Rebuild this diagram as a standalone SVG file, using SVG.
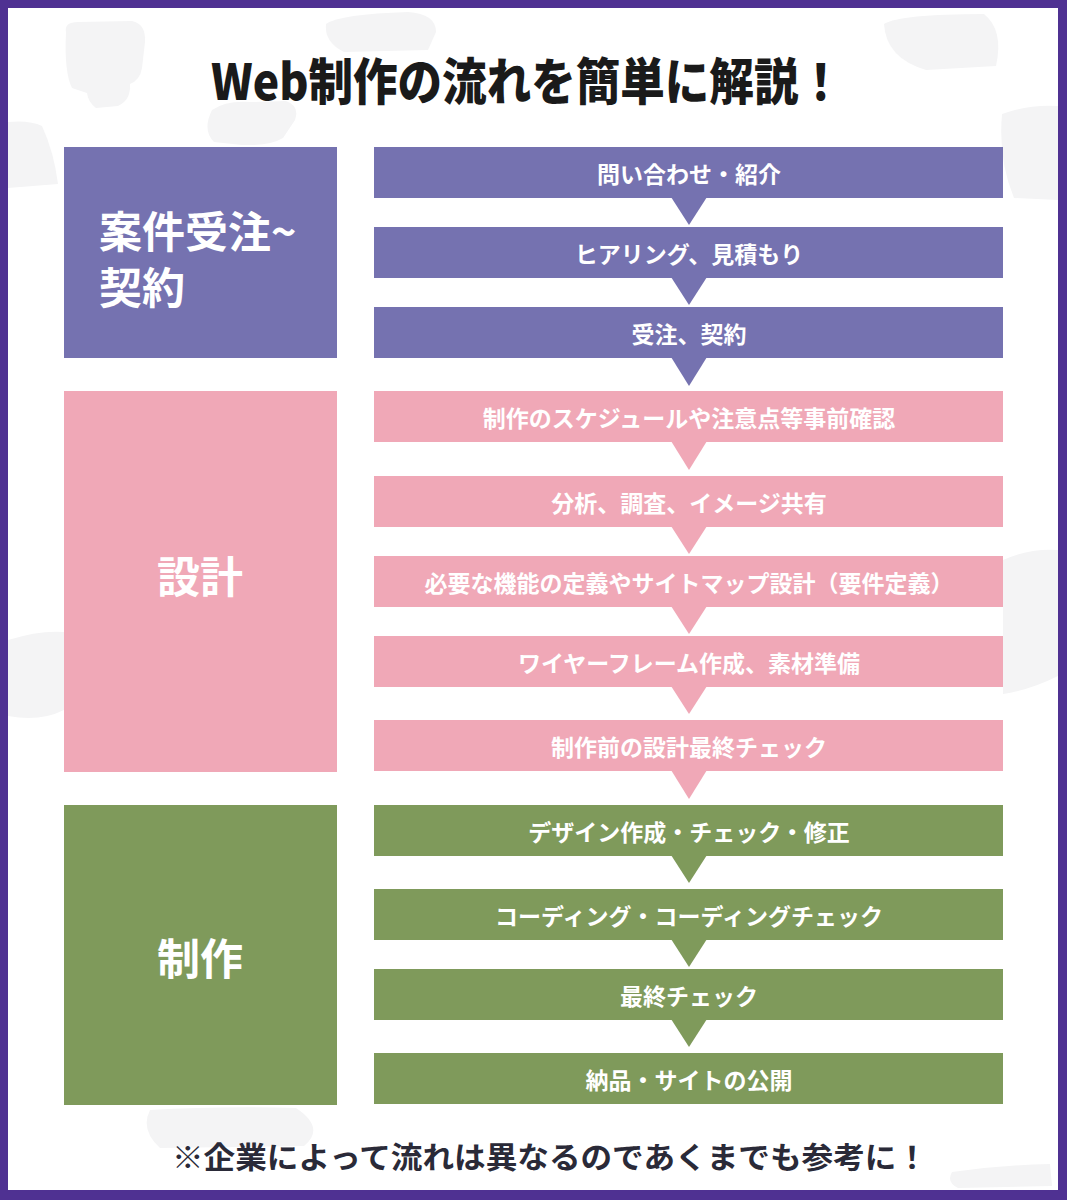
<svg xmlns="http://www.w3.org/2000/svg" width="1067" height="1200" viewBox="0 0 1067 1200">
<style>
.bg{fill:#f4f4f5}
.pu{fill:#7572b0}
.pk{fill:#f0a8b7}
.gr{fill:#7f9a5b}
.lbl{font-family:"Noto Sans CJK JP","Noto Sans",sans-serif;font-weight:700;fill:#ffffff;dominant-baseline:central}
.step{font-size:23px;text-anchor:middle}
.big{font-size:43px}
.title{font-family:"Noto Sans CJK JP","Noto Sans",sans-serif;font-weight:900;font-size:50px;fill:#1a1a1a;dominant-baseline:central}
.note{font-family:"Noto Sans CJK JP","Noto Sans",sans-serif;font-weight:700;font-size:30px;fill:#2a2a38;dominant-baseline:central}
</style>
<rect x="0" y="0" width="1067" height="1200" fill="#4f3192"/>
<rect x="8" y="8" width="1050" height="1182" fill="#ffffff"/>
<g id="background">
<path class="bg" d="M66 32 Q64 22 78 22 L132 21 Q146 24 145 42 L142 68 Q140 80 130 84 Q131 100 118 106 L96 108 Q88 102 87 93 L72 88 Q64 72 66 32Z"/>
<path class="bg" d="M212 110 Q226 100 252 102 L286 101 Q300 106 295 120 L283 138 Q270 146 242 145 L214 142 Q202 130 212 110Z"/>
<path class="bg" d="M326 24 Q340 14 408 12 Q436 14 436 32 L428 50 L344 52 Q324 42 326 24Z"/>
<path class="bg" d="M884 24 Q900 14 984 14 Q1004 30 996 66 L926 70 Q886 58 884 24Z"/>
<path class="bg" d="M1002 114 Q1030 104 1058 106 L1058 200 L1014 198 Q998 160 1002 114Z"/>
<path class="bg" d="M8 122 Q30 120 42 126 Q54 152 58 184 L8 188Z"/>
<path class="bg" d="M8 640 Q40 630 64 632 L64 710 Q40 722 8 716Z"/>
<path class="bg" d="M1003 560 Q1030 548 1058 550 L1058 676 Q1030 690 1003 694Z"/>
<path class="bg" d="M150 1110 Q220 1106 296 1108 Q326 1128 304 1146 L160 1148 Q140 1130 150 1110Z"/>
<path class="bg" d="M952 1172 Q1000 1165 1050 1164 L1052 1186 L958 1188 Q946 1182 952 1172Z"/>
</g>
<text class="title" x="211" y="78" textLength="632" lengthAdjust="spacingAndGlyphs">Web制作の流れを簡単に解説！</text>
<g id="phase-contract">
<rect class="pu" x="64" y="147" width="273" height="211"/>
<text class="lbl big" x="99" y="229">案件受注~</text>
<text class="lbl big" x="99" y="285">契約</text>
</g>
<g id="phase-design">
<rect class="pk" x="64" y="391" width="273" height="381"/>
<text class="lbl big" x="200" y="574" text-anchor="middle">設計</text>
</g>
<g id="phase-production">
<rect class="gr" x="64" y="805" width="273" height="300"/>
<text class="lbl big" x="200" y="956" text-anchor="middle">制作</text>
</g>
<g id="connectors">
<polygon class="pu" points="671,197 707,197 689,225"/>
<polygon class="pu" points="671,277 707,277 689,305"/>
<polygon class="pu" points="671,357 707,357 689,386"/>
<polygon class="pk" points="671,441 707,441 689,470"/>
<polygon class="pk" points="671,526 707,526 689,554"/>
<polygon class="pk" points="671,606 707,606 689,634"/>
<polygon class="pk" points="671,686 707,686 689,714"/>
<polygon class="pk" points="671,770 707,770 689,799"/>
<polygon class="gr" points="671,855 707,855 689,883"/>
<polygon class="gr" points="671,939 707,939 689,967"/>
<polygon class="gr" points="671,1019 707,1019 689,1047"/>
</g>
<g id="step1"><rect class="pu" x="374" y="147" width="629" height="51"/><text class="lbl step" x="689" y="173">問い合わせ・紹介</text></g>
<g id="step2"><rect class="pu" x="374" y="227" width="629" height="51"/><text class="lbl step" x="689" y="253">ヒアリング、見積もり</text></g>
<g id="step3"><rect class="pu" x="374" y="307" width="629" height="51"/><text class="lbl step" x="689" y="333">受注、契約</text></g>
<g id="step4"><rect class="pk" x="374" y="391" width="629" height="51"/><text class="lbl step" x="689" y="417">制作のスケジュールや注意点等事前確認</text></g>
<g id="step5"><rect class="pk" x="374" y="476" width="629" height="51"/><text class="lbl step" x="689" y="502">分析、調査、イメージ共有</text></g>
<g id="step6"><rect class="pk" x="374" y="556" width="629" height="51"/><text class="lbl step" x="689" y="582">必要な機能の定義やサイトマップ設計（要件定義）</text></g>
<g id="step7"><rect class="pk" x="374" y="636" width="629" height="51"/><text class="lbl step" x="689" y="662">ワイヤーフレーム作成、素材準備</text></g>
<g id="step8"><rect class="pk" x="374" y="720" width="629" height="51"/><text class="lbl step" x="689" y="746">制作前の設計最終チェック</text></g>
<g id="step9"><rect class="gr" x="374" y="805" width="629" height="51"/><text class="lbl step" x="689" y="831">デザイン作成・チェック・修正</text></g>
<g id="step10"><rect class="gr" x="374" y="889" width="629" height="51"/><text class="lbl step" x="689" y="915">コーディング・コーディングチェック</text></g>
<g id="step11"><rect class="gr" x="374" y="969" width="629" height="51"/><text class="lbl step" x="689" y="995">最終チェック</text></g>
<g id="step12"><rect class="gr" x="374" y="1053" width="629" height="51"/><text class="lbl step" x="689" y="1079">納品・サイトの公開</text></g>
<text class="note" x="172" y="1155" textLength="756" lengthAdjust="spacingAndGlyphs">※企業によって流れは異なるのであくまでも参考に！</text>
</svg>
